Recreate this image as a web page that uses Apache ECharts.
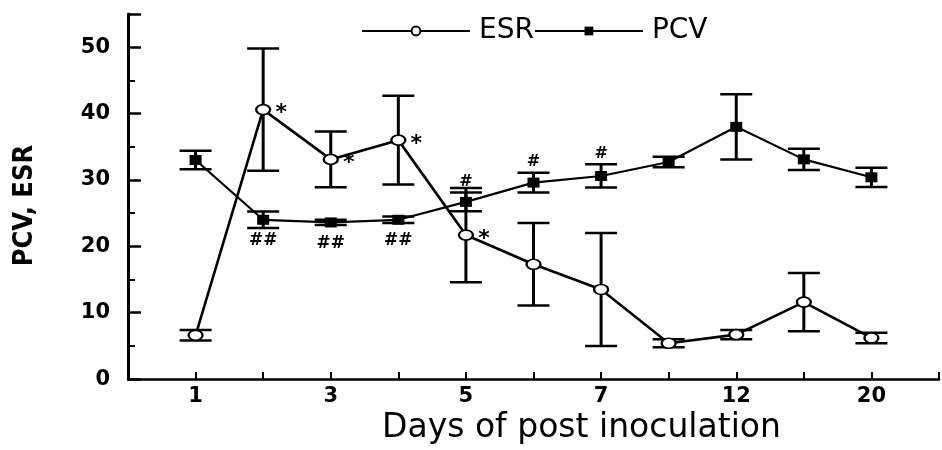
<!DOCTYPE html>
<html><head><meta charset="utf-8">
<script src="https://cdn.jsdelivr.net/npm/echarts@6/dist/echarts.min.js"></script>
<style>html,body{margin:0;padding:0;background:#fff}#c{width:942px;height:450px}</style>
</head><body><div id="c"></div>
<script>
// Categories (days post inoculation) and the labels printed under the axis
const days = ['1','2','3','4','5','6','7','10','12','15','20'];
const dayLabels = ['1','','3','','5','','7','','12','','20'];
// ESR: means and +/- error
const esrMean = [6.6, 40.6, 33.1, 36.0, 21.7, 17.3, 13.5, 5.4, 6.7, 11.6, 6.2];
const esrErr  = [0.8, 9.2, 4.2, 6.7, 7.1, 6.2, 8.5, 0.6, 0.7, 4.4, 0.8];
// PCV: means and +/- error
const pcvMean = [33.0, 24.0, 23.6, 24.0, 26.7, 29.6, 30.6, 32.7, 38.0, 33.1, 30.4];
const pcvErr  = [1.4, 1.25, 0.4, 0.5, 1.4, 1.5, 1.75, 0.8, 4.9, 1.6, 1.45];
// Significance marks
const esrMarks      = ['', '*', '*', '*', '*', '', '', '', '', '', ''];
const pcvMarksBelow = ['', '##', '##', '##', '', '', '', '', '', '', ''];
const pcvMarksAbove = ['', '', '', '', '#', '#', '#', '', '', '', ''];
const yTickLabels = ['0','10','20','30','40','50'];

const FONT = 'DejaVu Sans, Liberation Sans, sans-serif';
const chart = echarts.init(document.getElementById('c'), null, {renderer:'canvas'});

const pos = days.map((d, i) => i + 1);
const esrLine = pos.map((x, i) => [x, esrMean[i]]);
const pcvLine = pos.map((x, i) => [x, pcvMean[i]]);
const esrBars = pos.map((x, i) => [x, esrMean[i] - esrErr[i], esrMean[i] + esrErr[i]]);
const pcvBars = pos.map((x, i) => [x, pcvMean[i] - pcvErr[i], pcvMean[i] + pcvErr[i]]);

function errItem(params, api) {
  const x = api.value(0), lo = api.value(1), hi = api.value(2);
  const a = api.coord([x, hi]), b = api.coord([x, lo]);
  const hw = 16;
  return {type: 'group', children: [
    {type: 'line', shape: {x1: a[0], y1: a[1], x2: b[0], y2: b[1]}, style: {stroke: '#000', lineWidth: 3}},
    {type: 'line', shape: {x1: a[0] - hw, y1: a[1], x2: a[0] + hw, y2: a[1]}, style: {stroke: '#000', lineWidth: 2.5}},
    {type: 'line', shape: {x1: b[0] - hw, y1: b[1], x2: b[0] + hw, y2: b[1]}, style: {stroke: '#000', lineWidth: 2.5}}
  ]};
}

function textSeries(marks, refVals, dx, dy, size) {
  const data = [];
  marks.forEach((m, i) => { if (m) data.push([pos[i], refVals[i], i]); });
  return {
    type: 'custom', z: 5, silent: true,
    data: data,
    encode: {x: 0, y: 1},
    renderItem: function (params, api) {
      const p = api.coord([api.value(0), api.value(1)]);
      const idx = api.value(2);
      return {type: 'text', x: p[0] + dx, y: p[1] + dy,
        style: {text: marks[idx], fill: '#000', font: 'bold ' + size + 'px ' + FONT,
          align: 'center', verticalAlign: 'middle'}};
    }
  };
}

const ellipse = 'path://M0,5A8,5 0 1,0 16,5A8,5 0 1,0 0,5Z';

chart.setOption({
  backgroundColor: '#fff',
  animation: false,
  grid: {left: 128, right: 0, top: 14, bottom: 61},
  legend: {
    data: ['ESR', 'PCV'],
    left: 356, top: 12,
    itemWidth: 108, itemHeight: 11, itemGap: 0,
    textStyle: {fontSize: 28, fontFamily: FONT, color: '#000', padding: [0, 10, 0, 4]}
  },
  xAxis: {
    type: 'value', min: 0, max: 12, interval: 1,
    name: 'Days of post inoculation', nameLocation: 'middle', nameGap: 32,
    nameTextStyle: {fontSize: 33, fontFamily: FONT, color: '#000', padding: [0, 0, 0, 96]},
    axisLine: {lineStyle: {color: '#000', width: 2.5}},
    axisTick: {inside: true, length: 7, lineStyle: {color: '#000', width: 2}},
    axisLabel: {color: '#000', fontSize: 21, fontWeight: 'bold', fontFamily: FONT, margin: 7,
      formatter: v => (v >= 1 && v <= dayLabels.length) ? dayLabels[v - 1] : ''},
    splitLine: {show: false}
  },
  yAxis: {
    type: 'value', min: 0, max: 55, interval: 10,
    name: 'PCV, ESR', nameLocation: 'middle', nameGap: 90, nameRotate: 90,
    nameTextStyle: {fontSize: 27, fontWeight: 'bold', fontFamily: 'Liberation Sans Narrow, DejaVu Sans Condensed, sans-serif', color: '#000', padding: [0, 18, 0, 0]},
    axisLine: {show: true, lineStyle: {color: '#000', width: 3}},
    axisTick: {inside: true, length: 13, lineStyle: {color: '#000', width: 2.5}},
    minorTick: {show: true, splitNumber: 2, length: 7, lineStyle: {color: '#000', width: 2}},
    axisLabel: {color: '#000', fontSize: 21, fontWeight: 'bold', fontFamily: FONT, margin: 18,
      formatter: v => (v % 10 === 0) ? yTickLabels[v / 10] : ''},
    splitLine: {show: false}
  },
  series: [
    {type: 'custom', name: 'ESRerr', z: 1, data: esrBars, encode: {x: 0, y: [1, 2]}, renderItem: errItem, silent: true},
    {type: 'custom', name: 'PCVerr', z: 1, data: pcvBars, encode: {x: 0, y: [1, 2]}, renderItem: errItem, silent: true},
    {type: 'line', name: 'PCV', z: 2, data: pcvLine, symbol: 'rect', symbolSize: [12, 10],
      lineStyle: {color: '#000', width: 2.2}, itemStyle: {color: '#000'}},
    {type: 'line', name: 'ESR', z: 3, data: esrLine, symbol: ellipse, symbolSize: [14, 10],
      lineStyle: {color: '#000', width: 2.6}, itemStyle: {color: '#fff', borderColor: '#000', borderWidth: 2}},
    textSeries(esrMarks, esrMean, 18, 4, 22),
    textSeries(pcvMarksBelow, pcvMean, 0, 21, 17),
    textSeries(pcvMarksAbove, pcvMean.map((v, i) => v + pcvErr[i]), 0, -11, 16)
  ]
});
</script></body></html>
